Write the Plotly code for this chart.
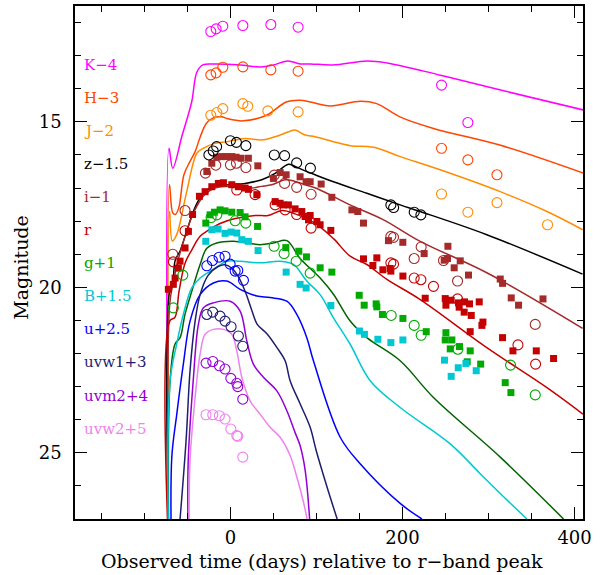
import plotly.graph_objects as go

# ---------------- data (days relative to r-band peak, magnitudes incl. offsets) ----------------
# K-4
K_model_t = [-71.8, -71.3, -67, -56, -45, -39, -32, -20, 11, 35, 50, 67, 81, 93, 119, 159, 182, 244, 314, 410]
K_model_m = [28, 15.8, 16.4, 15.4, 14.4, 13.5, 13.28, 13.25, 13.28, 13.34, 13.28, 13.16, 13.25, 13.25, 13.28, 13.16, 13.22, 13.59, 14.04, 14.64]
K_circ_t = [-22.8, -16.6, -8.8, 14.5, 47.0, 78.7, 245.4, 276.0]
K_circ_m = [12.27, 12.19, 12.11, 12.09, 12.06, 12.14, 13.89, 15.02]

# H-3
H_model_t = [-71.8, -70.8, -67, -64, -60, -54, -47, -41, -35, -28, -20, -10, -4, 15, 42, 65, 81, 93, 116, 151, 170, 197, 236, 314, 410]
H_model_m = [28, 16.9, 17.75, 17.8, 17.6, 16.6, 16.2, 15.9, 15.45, 15.05, 14.88, 14.85, 14.9, 14.97, 14.8, 14.4, 14.35, 14.4, 14.52, 14.38, 14.45, 14.85, 15.2, 15.71, 16.55]
H_circ_t = [-22.8, -16.6, -8.8, 14.5, 47.0, 78.7, 245.4, 276.0, 309.8]
H_circ_m = [13.58, 13.52, 13.35, 13.34, 13.43, 13.47, 15.8, 16.15, 16.6]

# J-2
J_model_t = [-71.8, -70.8, -67.5, -62.3, -50.7, -39, -31.7, -17.8, -4, 17, 36.5, 52, 67.8, 75.2, 86.9, 98.5, 119.8, 139.2, 166.6, 197.3, 243.8, 313.6, 367.9, 409.5]
J_model_m = [28, 17.7, 18.6, 18.4, 17.1, 15.95, 15.8, 15.65, 15.6, 15.5, 15.55, 15.45, 15.3, 15.25, 15.4, 15.45, 15.6, 15.72, 15.77, 16.05, 16.45, 17.11, 17.71, 18.26]
J_circ_t = [-22.8, -15.8, -8.8, 14.5, 20.2, 43.5, 78.7, 245.4, 276.0, 309.8, 368.6]
J_circ_m = [14.8, 14.72, 14.6, 14.45, 14.53, 14.67, 14.7, 17.18, 17.73, 17.44, 18.11]

# z-1.5
z_model_t = [-71.8, -70.5, -67, -64.3, -58.5, -50.7, -43, -35.2, -23.6, -2.3, 17.1, 36.5, 52, 67.4, 75.2, 86.9, 98.5, 119.8, 158.6, 197.3, 220.6, 298, 409.3]
z_model_m = [28, 20.1, 19.9, 19.2, 18.9, 18.3, 17.7, 17.3, 17.0, 16.9, 16.86, 16.75, 16.56, 16.28, 16.35, 16.48, 16.6, 16.81, 17.16, 17.51, 17.71, 18.41, 19.6]
z_circ_t = [-25, -20, -16, 0, 7, 18, 51, 63, 77, 93, 186.5, 189.7, 213.6, 221.4]
z_circ_m = [16.0, 15.88, 15.75, 15.57, 15.62, 15.72, 16.0, 16.02, 16.24, 16.4, 17.51, 17.59, 17.73, 17.81]

# i-1
i_model_t = [-71.8, -70.5, -66, -60, -52, -42, -30, -18, -2, 17, 25, 36, 48, 64, 75, 87, 99, 120, 139, 178, 220.6, 298, 409.3]
i_model_m = [28, 20.5, 19.8, 19.1, 18.4, 17.7, 17.2, 17.0, 16.95, 16.95, 17.0, 16.95, 16.9, 16.75, 16.8, 16.9, 17.0, 17.26, 17.51, 17.96, 18.61, 19.56, 21.24]
i_sq_t = [-27.4, -21.6, -15.8, -10, -5, 1.6, 6.6, 12.4, 20.9, 31.9, 50, 57.8, 64.8, 81, 88, 92.7, 105.5, 117.9, 141.2, 148.1, 154.7, 183.7, 200.4, 225.2, 248.5, 252.3, 252.8, 260.1, 267.1, 276.7, 313.6, 316.3, 326.4, 334.9, 363.3]
i_sq_m = [16.5, 16.25, 16.07, 16.05, 16.05, 16.05, 16.07, 16.1, 16.1, 16.33, 16.71, 16.53, 16.6, 16.66, 16.81, 16.81, 16.88, 17.28, 17.66, 17.71, 18.06, 18.59, 18.64, 18.98, 19.18, 19.13, 18.76, 19.41, 19.2, 19.63, 19.75, 19.88, 20.32, 20.54, 20.35]
i_circ_t = [-67, -52.7, -29, -17, 0, 7, 18, 51, 63, 77, 93.8, 186.5, 189.6, 213.6, 221.7, 247.7, 264, 354.3]
i_circ_m = [19.0, 17.68, 16.55, 16.31, 16.3, 16.25, 16.38, 16.61, 16.86, 16.98, 17.19, 18.46, 18.49, 19.13, 18.78, 19.19, 19.81, 21.12]

# r
r_model_t = [-71.8, -70.5, -64.3, -59.7, -52.7, -44.5, -35.2, -25.9, -12, 5.5, 28.7, 43.8, 60, 75.2, 98.5, 119.8, 139.2, 158.6, 181.9, 220.6, 298, 367.9, 409.8]
r_model_m = [28, 21.02, 20.9, 20.12, 19.27, 18.85, 18.46, 18.28, 18.07, 17.92, 17.83, 17.83, 17.68, 17.78, 18.07, 18.53, 19.06, 19.31, 19.76, 20.37, 21.82, 23.03, 23.83]
r_sq_t = [-72.1, -66.3, -64.3, -60.5, -58.5, -52.7, -48.8, -44, -36, -29.4, -21.6, -14, -8.1, 1.6, 9.3, 17.1, 20.9, 30.7, 52, 57.8, 61.6, 67.4, 75.2, 83, 86.9, 90.8, 92.7, 100.5, 104.3, 116.7, 154.7, 170.2, 165.6, 177.2, 185.7, 186.5, 200.5, 226.4, 249.7, 250.5, 256.6, 265.1, 265.9, 272.1, 277.9, 271.7, 279.9, 289.2, 293.5, 292.3, 278.7, 316.3, 328.4, 355.5, 375.6]
r_sq_m = [20.06, 19.91, 19.72, 19.42, 19.21, 18.81, 18.31, 17.8, 17.25, 17.11, 16.96, 16.86, 16.84, 16.9, 16.96, 17.0, 17.04, 17.2, 17.41, 17.46, 17.51, 17.51, 17.63, 17.71, 17.86, 17.96, 17.83, 18.01, 18.11, 18.28, 19.14, 19.11, 19.34, 19.47, 19.43, 19.51, 19.66, 20.33, 20.34, 20.54, 20.39, 20.47, 20.6, 20.44, 20.5, 20.75, 20.85, 20.44, 21.05, 21.15, 21.34, 21.52, 21.92, 21.92, 22.15]
r_circ_t = [-66.3, -52.7, 7.4, 28.7, 52, 63.6, 77, 93.8, 186.5, 189.6, 213.6, 221.4, 236, 264, 334.2, 354.7]
r_circ_m = [19.23, 18.29, 17.06, 17.2, 17.51, 17.66, 17.8, 18.21, 19.26, 19.3, 19.72, 19.77, 19.97, 20.35, 21.74, 22.32]

# g+1
g_model_t = [-71.8, -70.1, -64.3, -58.5, -52.7, -44.9, -35.2, -27.4, -15.8, 3.5, 34.5, 50, 65.6, 81, 104.3, 119.8, 139.2, 158.6, 197.3, 236, 313.6, 387.2]
g_model_m = [28, 22.82, 21.71, 21.52, 20.81, 20.12, 19.31, 18.82, 18.66, 18.61, 18.71, 18.66, 18.59, 19.13, 19.72, 20.21, 21.02, 21.52, 22.22, 23.33, 25.13, 27.0]
g_sq_t = [-28.6, -23.6, -18.6, -12, -6.2, 1.6, 11.3, 17.1, 31.6, 64.4, 79.5, 88.4, 104.3, 117.9, 149.7, 155.5, 169.4, 170.2, 176.7, 200.5, 227.6, 250.5, 249.7, 257.4, 255.5, 266.3, 278.7, 275.2, 290.9, 319.4, 326.0]
g_sq_m = [18.06, 17.81, 17.73, 17.66, 17.69, 17.73, 17.74, 17.87, 18.16, 18.8, 18.91, 19.08, 19.41, 19.54, 20.24, 20.54, 20.5, 20.59, 20.82, 20.94, 21.34, 21.37, 21.59, 21.59, 21.86, 21.79, 21.92, 22.25, 22.32, 22.88, 23.18]
g_circ_t = [-66.3, -55.3, -22.4, -15.8, 5.5, 17.9, 50.8, 62.4, 76.4, 92.7, 186.9, 213.6, 221.7, 264.4, 325.6, 354.3]
g_circ_m = [20.62, 19.63, 17.89, 17.81, 17.99, 18.06, 18.76, 18.98, 19.21, 19.57, 20.85, 21.15, 21.45, 21.87, 22.35, 23.25]

# B+1.5
B_model_t = [-71.8, -70.1, -62.3, -54.7, -44.9, -35.2, -19.8, -4.2, 11.3, 34.5, 57.8, 73.3, 88.8, 104.3, 119.8, 139.2, 162.4, 197.3, 255.5, 290.3, 313.6, 344.7]
B_model_m = [28, 22.82, 21.7, 20.82, 20.02, 19.72, 19.46, 19.21, 19.21, 19.26, 19.21, 19.31, 19.81, 20.22, 20.92, 21.72, 22.82, 23.63, 24.73, 25.63, 26.23, 27.0]
B_sq_t = [-28.6, -21.6, -14.3, -6.2, 0.8, 7.4, 13.3, 20.9, 32.2, 64.8, 81, 88, 116.7, 150, 155.8, 171.4, 186.5, 200.5, 248.8, 256.6, 264.8, 273.7, 285.7]
B_sq_m = [18.61, 18.26, 18.24, 18.37, 18.33, 18.36, 18.56, 18.61, 18.89, 19.54, 19.91, 20.02, 20.55, 21.32, 21.42, 21.57, 21.67, 21.59, 22.2, 22.69, 22.43, 22.3, 22.52]

# u+2.5
u_model_t = [-68.5, -68.1, -62.3, -54.7, -46.9, -35.2, -19.8, -4.2, 11.3, 30.7, 46.2, 65.6, 77.2, 88.8, 96.5, 127.6, 150.8, 197.3, 222.6]
u_model_m = [28, 25.13, 23.83, 22.32, 21.02, 20.22, 19.87, 19.81, 20.06, 20.26, 20.31, 20.42, 20.82, 21.52, 22.22, 24.53, 25.33, 26.53, 27.0]
u_circ_t = [-27.4, -20.9, -13.1, -6.2, -0.3, 5.5, 8.6, 15.2]
u_circ_m = [19.35, 19.19, 19.09, 19.06, 19.3, 19.51, 19.49, 19.79]

# uvw1+3
w1_model_t = [-58.5, -51.5, -46.9, -41, -35.2, -25.9, -14.3, -6.2, 2, 9, 17.1, 25.2, 31, 42.7, 54.3, 63.6, 69.4, 81, 92.7, 99.7, 112.4, 124.1]
w1_model_m = [27.0, 24.63, 22.52, 21.02, 20.22, 19.64, 19.37, 19.32, 19.43, 19.67, 20.12, 20.72, 21.11, 21.41, 21.83, 22.22, 22.82, 23.52, 24.23, 24.93, 26.04, 27.0]
w1_circ_t = [-27.4, -20.5, -12, -6.2, 0.8, 9.3, 14.4]
w1_circ_m = [20.82, 20.75, 20.87, 21.02, 21.19, 21.47, 21.78]

# uvm2+4
m2_model_t = [-49.4, -49.0, -43.2, -37.2, -31.4, -19.8, -0.3, 11.3, 19.1, 26.7, 38.4, 54, 65.6, 75.2, 81, 86.9, 92.1]
m2_model_m = [27.0, 25.23, 22.82, 21.12, 20.62, 20.47, 20.42, 20.72, 21.62, 22.32, 22.72, 23.13, 23.73, 24.39, 24.78, 25.53, 27.0]
m2_circ_t = [-28.3, -20.5, -12.8, -6.2, 0.5, 7.4, 8.6, 14.4]
m2_circ_m = [22.29, 22.24, 22.37, 22.47, 22.75, 22.9, 23.0, 23.38]

# uvw2+5
w2_model_t = [-48, -46.9, -41, -35.2, -29.4, -19.8, -8.1, 1.6, 7.4, 13.3, 22.9, 34.5, 46.2, 57.8, 69.4, 77.6, 84.5, 89.2]
w2_model_m = [27.0, 25.23, 23.33, 22.02, 21.42, 21.27, 21.27, 21.42, 21.92, 22.72, 23.43, 23.83, 24.23, 24.53, 25.08, 25.77, 26.44, 27.0]
w2_circ_t = [-28.3, -20.5, -12.8, -6.2, 0.5, 7.4, 8.6, 14.4]
w2_circ_m = [23.85, 23.85, 23.88, 23.98, 24.28, 24.48, 24.5, 25.13]

band_labels = ["K\u22124", "H\u22123", "J\u22122", "z\u22121.5", "i\u22121", "r", "g+1", "B+1.5", "u+2.5", "uvw1+3", "uvm2+4", "uvw2+5"]

x_ticks = [0, 200, 400]
y_ticks = [15, 20, 25]

# ---------------- styles ----------------
colors = {
    "K": "#ff00ff", "H": "#ff4500", "J": "#ff8c00", "z": "#000000", "i": "#a52a2a",
    "r": "#c40000", "g": "#00aa00", "B": "#00c8d2", "u": "#0000ff", "w1": "#1e1e6e",
    "m2": "#9400d3", "w2": "#ee82ee",
}
line_colors = dict(colors)
line_colors["g"] = "#006400"

models = [
    ("K", K_model_t, K_model_m), ("H", H_model_t, H_model_m), ("J", J_model_t, J_model_m),
    ("z", z_model_t, z_model_m), ("i", i_model_t, i_model_m), ("r", r_model_t, r_model_m),
    ("g", g_model_t, g_model_m), ("B", B_model_t, B_model_m), ("u", u_model_t, u_model_m),
    ("w1", w1_model_t, w1_model_m), ("m2", m2_model_t, m2_model_m), ("w2", w2_model_t, w2_model_m),
]
squares = [
    ("i", i_sq_t, i_sq_m), ("r", r_sq_t, r_sq_m), ("g", g_sq_t, g_sq_m), ("B", B_sq_t, B_sq_m),
]
circles = [
    ("K", K_circ_t, K_circ_m), ("H", H_circ_t, H_circ_m), ("J", J_circ_t, J_circ_m),
    ("z", z_circ_t, z_circ_m), ("i", i_circ_t, i_circ_m), ("r", r_circ_t, r_circ_m),
    ("g", g_circ_t, g_circ_m), ("u", u_circ_t, u_circ_m), ("w1", w1_circ_t, w1_circ_m),
    ("m2", m2_circ_t, m2_circ_m), ("w2", w2_circ_t, w2_circ_m),
]
label_keys = ["K", "H", "J", "z", "i", "r", "g", "B", "u", "w1", "m2", "w2"]

fig = go.Figure()
for key, t, m in models:
    fig.add_trace(go.Scatter(x=t, y=m, mode="lines", line=dict(color=line_colors[key], width=1.5),
                             line_shape="spline", hoverinfo="skip"))
for key, t, m in squares:
    fig.add_trace(go.Scatter(x=t, y=m, mode="markers",
                             marker=dict(symbol="square", size=7, color=colors[key], line=dict(width=0))))
for key, t, m in circles:
    fig.add_trace(go.Scatter(x=t, y=m, mode="markers",
                             marker=dict(symbol="circle-open", size=10, color=colors[key],
                                         line=dict(width=1.1, color=colors[key]))))

font_family = "DejaVu Serif"
for k, (key, text) in enumerate(zip(label_keys, band_labels)):
    fig.add_annotation(x=-172, y=13.27 + k, xref="x", yref="y", text=text, showarrow=False,
                       xanchor="left", yanchor="middle",
                       font=dict(family=font_family, size=15, color=colors[key]))

fig.add_annotation(x=0.486, y=-0.0824, xref="paper", yref="paper",
                   text="Observed time (days) relative to r\u2212band peak", showarrow=False,
                   xanchor="center", yanchor="middle", font=dict(family=font_family, size=19, color="black"))
fig.add_annotation(x=-0.108, y=0.49, xref="paper", yref="paper", text="Magnitude", textangle=-90,
                   showarrow=False, xanchor="center", yanchor="middle",
                   font=dict(family=font_family, size=19, color="black"))

axis_common = dict(showgrid=False, zeroline=False, showline=True, linecolor="black", linewidth=1.5,
                   ticks="inside", mirror="allticks", tickcolor="black", tickwidth=1.2, ticklen=12,
                   tickfont=dict(family=font_family, size=18, color="black"))
fig.update_xaxes(range=[-180.6, 409.8], tickmode="array", tickvals=x_ticks,
                 ticktext=[str(v) for v in x_ticks], ticklabelstandoff=2,
                 minor=dict(tickmode="linear", tick0=0, dtick=50, ticks="inside", ticklen=6,
                            tickcolor="black", tickwidth=1.2),
                 **axis_common)
fig.update_yaxes(range=[27.0, 11.5], tickmode="array", tickvals=y_ticks,
                 ticktext=[str(v) for v in y_ticks], ticklabelstandoff=8,
                 minor=dict(tickmode="linear", tick0=0, dtick=1, ticks="inside", ticklen=6,
                            tickcolor="black", tickwidth=1.2),
                 **axis_common)
fig.update_layout(width=604, height=575, margin=dict(l=75, r=21, t=4, b=56),
                  paper_bgcolor="white", plot_bgcolor="white", showlegend=False)

fig.write_html("out.html")
